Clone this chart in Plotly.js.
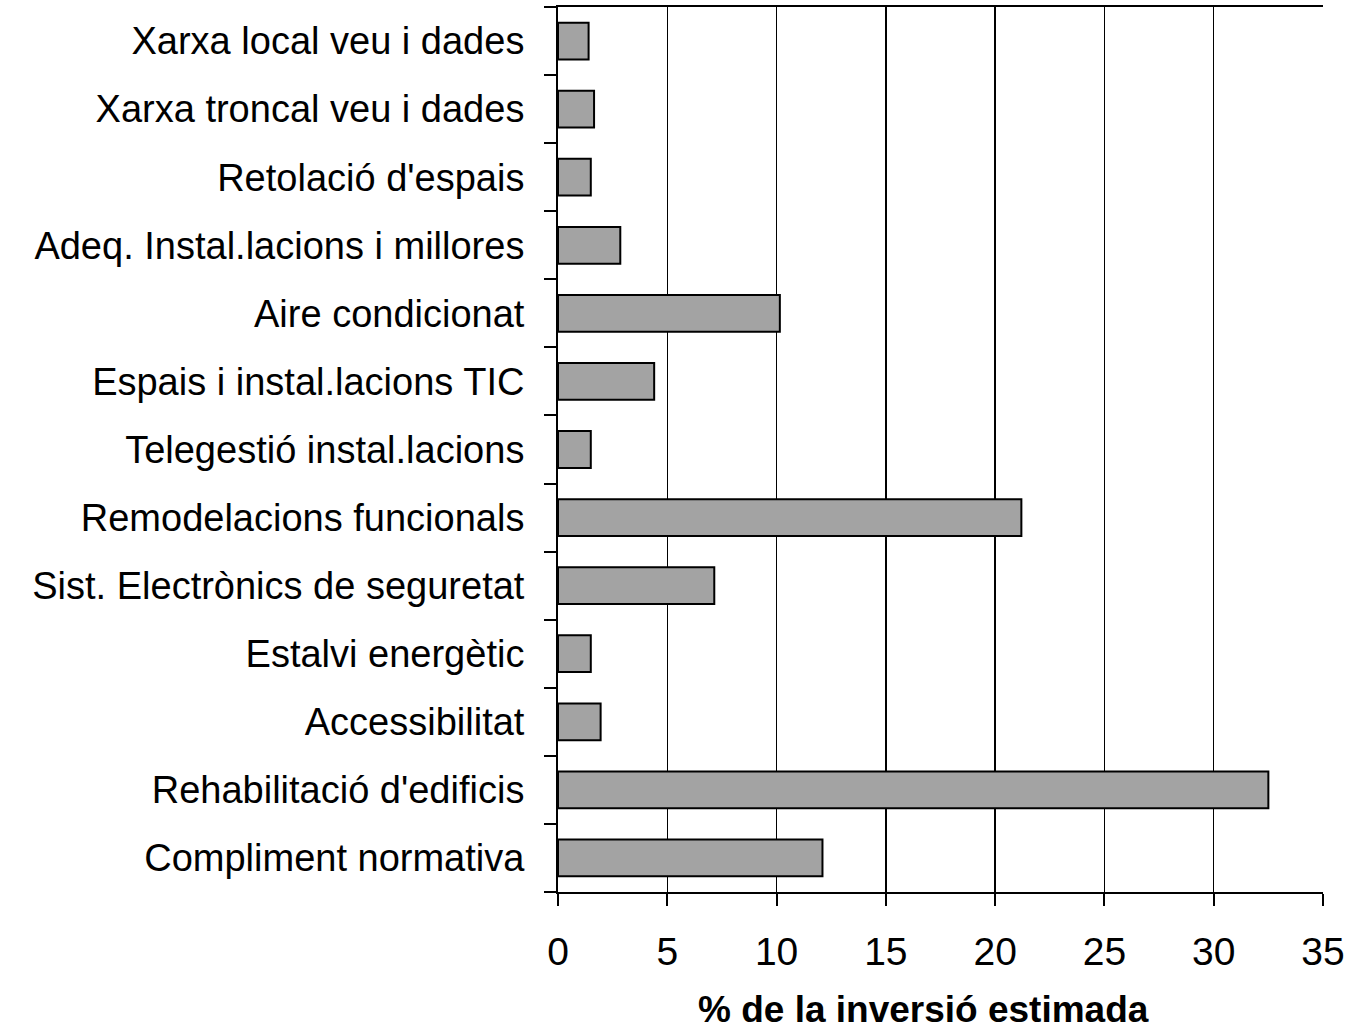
<!DOCTYPE html>
<html>
<head>
<meta charset="utf-8">
<script src="https://cdn.plot.ly/plotly-3.0.1.min.js"></script>
<style>
  html, body { margin: 0; padding: 0; background: #ffffff; }
  #chart { width: 1349px; height: 1036px; }
</style>
</head>
<body>
<div id="chart"></div>
<script>
// Categories listed bottom to top
const categories = [
  "Compliment normativa",
  "Rehabilitació d'edificis",
  "Accessibilitat",
  "Estalvi energètic",
  "Sist. Electrònics de seguretat",
  "Remodelacions funcionals",
  "Telegestió instal.lacions",
  "Espais i instal.lacions TIC",
  "Aire condicionat",
  "Adeq. Instal.lacions i millores",
  "Retolació d'espais",
  "Xarxa troncal veu i dades",
  "Xarxa local veu i dades"
];
const values = [12.1, 32.5, 1.95, 1.5, 7.15, 21.2, 1.5, 4.4, 10.15, 2.85, 1.5, 1.65, 1.4];
const xTicks = [0, 5, 10, 15, 20, 25, 30, 35];
const xTitle = "% de la inversió estimada";

const FONT = "Liberation Sans, Arial, sans-serif";

const trace = {
  type: "bar",
  orientation: "h",
  x: values,
  y: categories,
  marker: { color: "#a3a3a3", line: { color: "#000000", width: 2 } },
  hoverinfo: "x+y"
};

const layout = {
  width: 1349,
  height: 1036,
  margin: { l: 558, r: 26, t: 7, b: 144, pad: 0 },
  paper_bgcolor: "#ffffff",
  plot_bgcolor: "#ffffff",
  showlegend: false,
  bargap: 0.46,
  font: { family: FONT, color: "#000000", size: 38 },
  xaxis: {
    range: [0, 35],
    tickvals: xTicks,
    ticktext: xTicks.map(String),
    showgrid: true,
    gridcolor: "#000000",
    gridwidth: 1.5,
    zeroline: false,
    showline: true,
    linecolor: "#000000",
    linewidth: 2,
    mirror: true,
    ticks: "outside",
    ticklen: 12,
    tickwidth: 2,
    tickcolor: "#000000",
    tickfont: { family: FONT, size: 39, color: "#000000" },
    ticklabelstandoff: 12
  },
  yaxis: {
    type: "category",
    categoryorder: "array",
    categoryarray: categories,
    range: [-0.5, categories.length - 0.5],
    showgrid: false,
    zeroline: false,
    showline: true,
    linecolor: "#000000",
    linewidth: 2,
    ticks: "outside",
    tickson: "boundaries",
    ticklen: 12,
    tickwidth: 2,
    tickcolor: "#000000",
    tickfont: { family: FONT, size: 38, color: "#000000" },
    ticklabelstandoff: 24
  },
  annotations: [{
    text: "<b>" + xTitle + "</b>",
    xref: "paper", yref: "paper",
    x: 0.478, y: 0,
    xanchor: "center", yanchor: "top",
    yshift: -95,
    showarrow: false,
    font: { family: FONT, size: 37, color: "#000000" }
  }]
};

Plotly.newPlot("chart", [trace], layout, { displayModeBar: false, staticPlot: true });
</script>
</body>
</html>
